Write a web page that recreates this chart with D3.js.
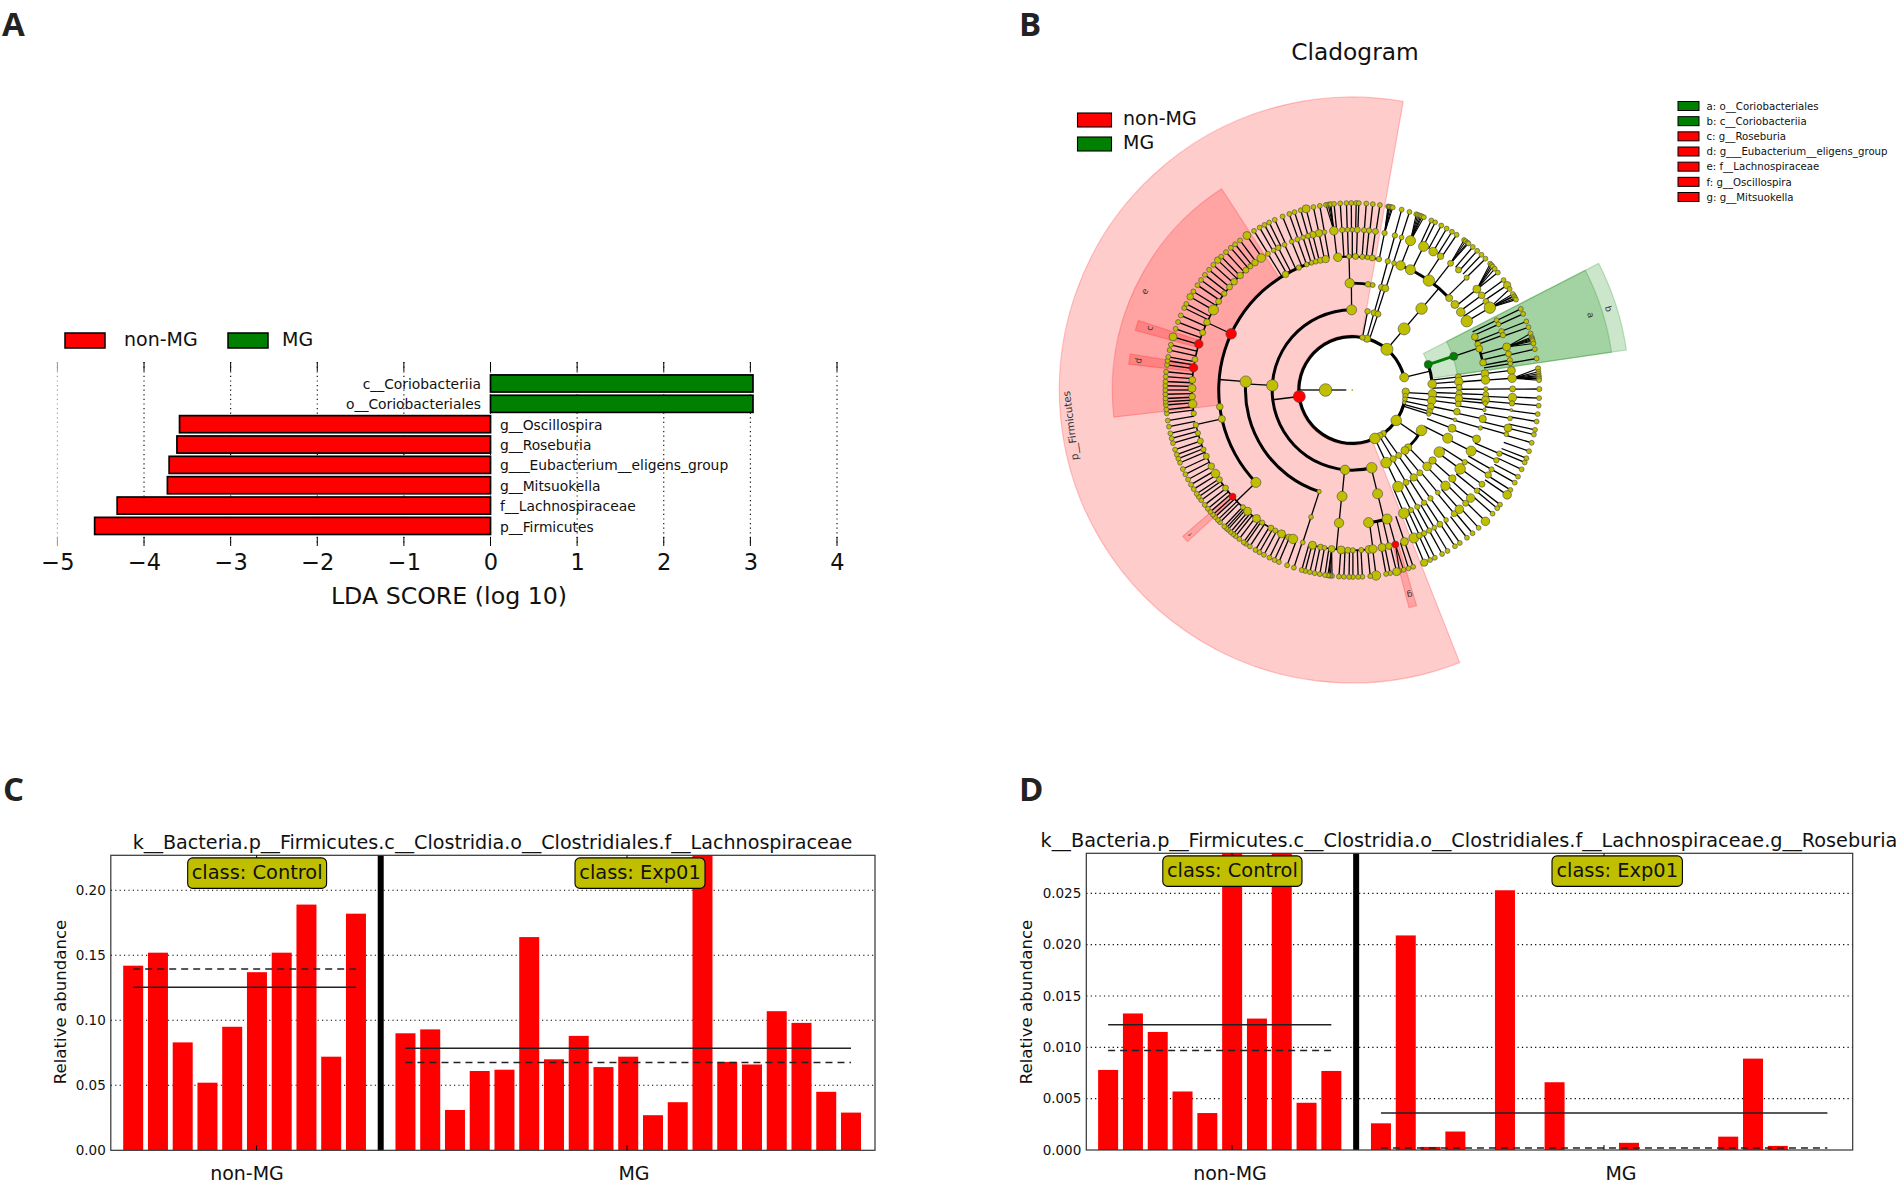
<!DOCTYPE html>
<html><head><meta charset="utf-8">
<script src="https://d3js.org/d3.v7.min.js"></script>
<style>html,body{margin:0;background:#fff}svg{display:block}text{font-family:"DejaVu Sans",sans-serif;fill:#111}</style>
</head><body><div id="c"></div>
<script>
// ---------- Panel A ----------
const ldaNames=["c__Coriobacteriia","o__Coriobacteriales","g__Oscillospira","g__Roseburia","g___Eubacterium__eligens_group","g__Mitsuokella","f__Lachnospiraceae","p__Firmicutes"];
const ldaValues=[3.03,3.03,-3.59,-3.62,-3.71,-3.73,-4.31,-4.57];
const ldaTicks=[-5,-4,-3,-2,-1,0,1,2,3,4];
const classNames=["non-MG","MG"];
// ---------- Panels C, D ----------
const cControl=[.142,.152,.083,.052,.095,.137,.152,.189,.072,.182];
const cExp=[.090,.093,.031,.061,.062,.164,.070,.088,.064,.072,.027,.037,.26,.068,.066,.107,.098,.045,.029];
const cMeans=[.1255,.0785], cMedians=[.1395,.0675];
const cTicks=[0,.05,.10,.15,.20];
const dControl=[.0078,.0133,.0115,.0057,.0036,.032,.0128,.031,.0046,.0077];
const dExp=[.0026,.0209,.0003,.0018,0,.0253,0,.0066,0,0,.0007,0,0,0,.0013,.0089,.0004,0,0];
const dMeans=[.0122,.0036], dMedians=[.0097,.0002];
const dTicks=[0,.005,.010,.015,.020,.025];
const cTitle="k__Bacteria.p__Firmicutes.c__Clostridia.o__Clostridiales.f__Lachnospiraceae";
const dTitle="k__Bacteria.p__Firmicutes.c__Clostridia.o__Clostridiales.f__Lachnospiraceae.g__Roseburia";
// ---------- Panel B: cladogram, angles in degrees, [angle, node radius] or angle ----------
const ring1=[[180,6.3]];
const ring2=[[187,6],[13.7,4.5],[-1.8,3.7],[-6.5,2.7],[-10,2.4],[-13.5,1.8],[-34.7,5.3],[-54.5,3],[-59,3.3],[-65,5.3],[74,3.7],[79,2.7],[49.6,6]];
const ring3=[[90.5,5],[176.7,5.7],[264.8,4.7],[284,5.3],[49.7,6],[18.6,4],[4.3,4.3],[-2.8,4.3],[-7.6,4.3],[-12,3.5],[-15.5,3],[-17.5,2.2],[79,2.8],[74.3,3],[71.3,3],[-30.3,5.3],[-45.8,3.7],[-49,4],[-54.7,3],[-59.4,3.2],[-65,5.3]];
const ring4=[[91.4,4.7],[81.5,2.8],[79,2.5],[74.2,3],[72,3.5],[175.5,5.7],[251.9,2.2],[264.5,5],[283.7,5],[49.6,5.7],[18.4,4],[7.1,3],[4.5,4.3],[1.4,3],[-1.8,3.3],[-4.5,4],[-7.5,3],[-11.7,3.3],[-16.2,1.8],[-21,4],[-26.8,5],[-35.5,5.3],[-41.3,3.7],[-45.6,4.3],[-50.8,3],[-54.9,3.7],[-59.8,3],[-64.7,5.3]];
const ring5=[[96.2,4.3],[91.4,2.4],[88.6,3],[85.7,2.6],[83.5,2.4],[81.4,3],[78.5,2.7],[74.6,2.7],[71.8,2.4],[68.8,4.7],[64.2,5],[55,5.7],[43.5,3.5],[39.8,4],[35.7,4.3],[31,5.7],
 [120,3.3],[113.6,2.7],[110,2.4],[107.8,2.4],[105.9,2.6],[103.8,3],[101.5,3.7],[155.1,5.3],[187.2,3.3],[192.5,3.5],[223.8,5],[252,2.4],[264.3,4.7],[277,5],[285.1,5],
 [23.4,3.4],[20,3],[18,3.4],[11.8,3.4],[7,4],[4.3,4.3],[.4,2.4],[-2,3],[-4.3,4],[-5.7,2.4],[-8.6,1.8],[-12.5,3.7],[-16.5,2.2],[-21.5,4],[-27.2,5],[-32.7,2.7],[-36.2,5.3],[-41.5,3.7],[-45.8,4.7],[-50.2,2.4],[-54.2,2.7],[-57.5,2.7],[-60.9,2.7],[-64,2.7],[-67.3,5.3]];
const ring6=[[81.7,3],[84,2.7],[85.8,2.6],[88.2,3],[90,2.3],[91.7,2.4],[93.6,2.7],[96.6,4.3],[100,2.4],[102,3.7],[104.3,3.4],[106,2.6],[107.9,2.4],[110,2.6],[112.2,2.4],[115,2.4],[117.5,2.7],[119.4,2.3],[121.8,2.6],
 [124.6,4.3],[127.4,3.3],[129.5,2.6],[131.6,3],[134.4,3.3],[137.5,3.3],[140,3],[143,2.7],[146.5,3],[150,5],[155,3.3],[159,3],[163.3,4.3],[169,3],[172,4.3],[176.4,3.4],[179.4,4],[182.4,3.3],[185,4.3],[188.4,2.7],[192.6,2.7],[195.6,2.6],[198.6,3],[201.8,2.6],[204.4,3],[208.4,3.3],[211.4,4.3],[214,3],[217.7,3],[221.7,3.4],[227,2.6],[229.2,4],[233.3,4],[235.8,2.6],[239.5,3],[241.3,2.6],[243.8,4],[246.6,3],[248.3,4.7],[252,2.4],
 [255.6,4],[258.6,3],[260,2.4],[262.6,3.4],[266,4],[268.4,3],[270.2,2.6],[273.2,2.6],[276,4],[277.4,4.2],[280.7,4],[283.2,3.4],[285.6,3.4],[289,4],[292.6,5],[294.8,3],[296.6,2.7],[298.7,2.7],[300.8,2.4],[303.1,3],[305.8,2.4],[309.5,3],[311.9,4.3],[315,3],[317.6,4.3],[321.1,2.7],[324,3],[328,3.2],[330.3,2.6],[334,2.7],[336.6,2.7],
 [78.4,2.7],[74.6,2.7],[72.1,2.4],[68.7,5],[63.6,5],[59.7,4.3],[56.6,3.3],[52.2,3],[48.5,3],[44.5,2.6],[39,4],[36.2,3.4],[33.5,3],[30.9,5.7],
 [25.8,2.4],[24.2,2.4],[21.5,2.7],[20,2.7],[15.6,4],[13,3],[10.7,2.7],[9.5,2.4],[7,4],[4.2,4.3],[.4,3],[-2.7,4.3],[-4.8,2.7],[-7.2,1.5],[-10.2,2.4],[-13.7,4],[-16,2.4]];
const ring7=[98.1,97.4,96.9,96.6,95.6,93.7,91.8,90.3,88.8,88,85.7,83.7,81.5,79,78.7,78.4,77.9,77.5,74.7,72.2,70,69.5,69,68.5,68.1,67.5,65,63.7,61.6,59.7,57.8,56.1,53.3,52.7,52,51.6,49.9,48.1,46.3,44.6,42.5,41.9,41.3,40.4,38.9,36,[34.1,3.7],32.7,30.3,30.9,30,29.4,28.9,
 25.7,24,21.5,19.6,17.6,16.4,16,15.6,15.2,14.4,12.6,9.7,[6.6,2.7],5.6,5,4.4,4,3.5,3,[.3,2.6],-2.5,-4.8,-7.4,-9.7,-12.3,-13.8,-16.4,-19.1,-21.4,-22.8,-25.1,-27.6,-29.7,-32.3,[-34.1,4.3],-37.8,-39.2,-41.4,[-44.6,4.3],-47.5,-50,-52.2,-54.9,-56.7,-59.4,-61.3,-63.8,-65.4,[-67.4,3.7],-71,-72.5,-74.1,-75.4,[-76.3,4],-78.3,-79.6,[-82.7,4.7],-84.5,-86.9,-88.2,-89.8,-91,-92.6,-94.1,-96.2,-96.7,-97.2,-97.5,-98.4,-100,-101.6,-103.1,-104.6,-105.7,
 251.8,249.6,246.9,245.4,243.7,241.8,240.2,238.8,236.8,235.3,234.5,232.8,231.4,230.4,229.4,228.3,227.6,226.8,225,224,222.8,221.8,220.6,219.4,217.9,216.1,214.8,213.7,212,210.4,208.6,206.8,205,202.9,201.5,200.2,198.6,196.5,195,193.4,191.3,189.4,187.2,186,184.6,183.6,182.6,181.3,180,178.7,177.4,175.9,174.4,172.3,171,169.8,167.7,166,[163.5,4],160.9,158.7,156.5,154,152.6,[150.1,3.3],148.2,145.9,144,142,140,138,[136,3.3],134.5,132.5,130.5,128.8,126.9,[124.3,4],121.7,119.7,118,116.4,114.5,111.9,109.7,108,106,[104.3,4],102,100];
// fans: [ring 6 apex angle, first ring 7 angle, last ring 7 angle]
const fans=[[96.6,96.5,98.2],[78.4,77.4,79.1],[68.7,67.4,70.1],[52.2,51.5,53.4],[39,40.3,42.6],[30.9,28.8,32.8],[15.6,14.3,17.7],[4.2,3,6.7],[262.6,262.4,263.9],[285.6,284.5,286.7]];
// arcs: [ring, from angle, to angle, width, angle of the parent spoke]
const arcs=[[2,14,358,3.2,180],[3,90.5,284,3,187],[3,4.3,18.6,3,13.7],[3,-45.8,-30.3,2.8,-34.7],[4,175.5,252,3,176.7],[4,79,91.4,2.8,90.5],[5,101.5,224,3,175.5],[5,78.5,96.2,2,91.4],[5,43.5,68.8,3,49.6],[5,277,285.1,3,283.7],[5,11.8,23.4,2.5,18.4],[6,124.6,188.4,1.6,155.1],[6,192.6,208.4,1.4,192.5],[6,211.4,248.3,1.6,223.8],[6,255.6,276,1.6,264.3]];
const thickGreen=[[3,4,18.5]];
const cladeNames=["a","b","c","d","e","f","g","p__Firmicutes"];
const cladeFrom=[8.3,8.3,162,170.8,123,220.8,284.6,80];
const cladeTo=[27.2,27.2,164.6,173.4,186.5,222.6,286.6,291.5];
const cladeInner=[106,80,160,160,133,160,160,55];
const cladeOuter=[262,277,225,225,240,224,225,293];
const cladeClass=[1,1,0,0,0,0,0,0];
const cladeLabelR=[250,269,212,216,230,217,213,284];
const cladeLabelA=[17.5,17.6,163,172.2,154.6,221.7,285.7,187.2];
const cladeLabelSize=[9,9,9,9,9,5.5,9,10.3];
const keyLabels=["a: o__Coriobacteriales","b: c__Coriobacteriia","c: g__Roseburia","d: g___Eubacterium__eligens_group","e: f__Lachnospiraceae","f: g__Oscillospira","g: g__Mitsuokella"];
const keyClass=[1,1,0,0,0,0,0];
const biomarkers=[[2,187,0],[3,18.6,1],[4,18.4,1],[5,155.1,0],[6,163.3,0],[6,172,0],[6,221.7,0],[6,285.6,0]];
const panelLetters=[["A",2,36],["B",1019,36],["C",3,801],["D",1019,801]];

const W=1902,H=1188;
const svg=d3.select("#c").append("svg").attr("width",W).attr("height",H);
const colors=d3.scaleOrdinal().domain([0,1]).range(["#ff0000","#008000"]);
const yellow="#bfbf00";
panelLetters.forEach(([t,x,y])=>svg.append("text").attr("x",x).attr("y",y).attr("font-size",33).attr("font-weight",700).style("font-family","'Open Sans',sans-serif").style("fill","#222").text(t));

// ===== Panel A
(function(){
 const g=svg.append("g");
 const x=d3.scaleLinear().domain([-5,4]).range([57.4,837]);
 const y=d3.scaleBand().domain(ldaNames).range([373.3,536.1]).paddingInner(.16).paddingOuter(.08);
 ldaTicks.forEach(t=>{
  const s=t===-5?"#999":"#000";
  g.append("line").attr("x1",x(t)).attr("x2",x(t)).attr("y1",362).attr("y2",546).attr("stroke",s).attr("stroke-width",1.1).attr("stroke-dasharray","1.2,3.4");
  [[362,371],[537,546]].forEach(([a,b])=>g.append("line").attr("x1",x(t)).attr("x2",x(t)).attr("y1",a).attr("y2",b).attr("stroke",s).attr("stroke-width",1));
 });
 ldaNames.forEach((n,i)=>{
  const v=ldaValues[i],cy=y(n);
  g.append("rect").attr("x",x(Math.min(0,v))).attr("width",Math.abs(x(v)-x(0))).attr("y",cy).attr("height",y.bandwidth())
   .attr("fill",colors(v>0?1:0)).attr("stroke","#000").attr("stroke-width",1.7);
  g.append("text").attr("x",v>0?481:500).attr("y",cy+y.bandwidth()/2+5.6).attr("text-anchor",v>0?"end":"start").attr("font-size",13.85).text(n);
 });
 const ax=g.append("g").attr("transform","translate(0,546)").call(d3.axisBottom(x).tickValues(ldaTicks).tickSize(0).tickPadding(8).tickFormat(d3.format("d")));
 ax.select(".domain").remove();
 ax.selectAll("text").attr("font-size",22.5).style("font-family","'DejaVu Sans'");
 g.append("text").attr("x",449).attr("y",604).attr("text-anchor","middle").attr("font-size",23.7).text("LDA SCORE (log 10)");
 [[65,105,124,0],[228,268,282,1]].forEach(([a,b,tx,k])=>{
  g.append("rect").attr("x",a).attr("y",333).attr("width",b-a).attr("height",15).attr("fill",colors(k)).attr("stroke","#000").attr("stroke-width",1.5);
  g.append("text").attr("x",tx).attr("y",346).attr("font-size",19).text(classNames[k]);
 });
})();

// ===== Panels C, D
function abundance(o){
 const g=svg.append("g");
 const x=d3.scaleLinear().domain(o.xd).range([o.l,o.r]);
 const y=d3.scaleLinear().domain([0,o.top]).range([o.b,o.t]);
 const id="clip"+o.l;
 svg.append("clipPath").attr("id",id).append("rect").attr("x",o.l).attr("y",o.t).attr("width",o.r-o.l).attr("height",o.b-o.t);
 o.ticks.forEach(t=>{ if(t>0) g.append("line").attr("x1",o.l).attr("x2",o.r).attr("y1",y(t)).attr("y2",y(t)).attr("stroke","#000").attr("stroke-width",1.1).attr("stroke-dasharray","1.2,3.2");});
 const all=o.a.map((v,i)=>[i,v]).concat(o.e.map((v,i)=>[i+11,v]));
 g.append("g").attr("clip-path",`url(#${id})`).selectAll("rect").data(all).join("rect")
  .attr("x",d=>x(d[0])-10).attr("width",20).attr("y",d=>y(d[1])).attr("height",d=>y(0)-y(d[1])).attr("fill","#ff0000");
 g.append("line").attr("x1",x(10)).attr("x2",x(10)).attr("y1",o.t).attr("y2",o.b).attr("stroke","#000").attr("stroke-width",6);
 [[0,9,0],[11,29,1]].forEach(([a,b,k])=>{
  g.append("line").attr("x1",x(a)).attr("x2",x(b)).attr("y1",y(o.mean[k])).attr("y2",y(o.mean[k])).attr("stroke","#222").attr("stroke-width",1.5);
  g.append("line").attr("x1",x(a)).attr("x2",x(b)).attr("y1",y(o.med[k])).attr("y2",y(o.med[k])).attr("stroke","#222").attr("stroke-width",1.5).attr("stroke-dasharray","7,5");
 });
 g.append("rect").attr("x",o.l).attr("y",o.t).attr("width",o.r-o.l).attr("height",o.b-o.t).attr("fill","none").attr("stroke","#333").attr("stroke-width",1.2);
 const ay=g.append("g").attr("transform",`translate(${o.l},0)`).call(d3.axisLeft(y).tickValues(o.ticks).tickSize(0).tickPadding(5).tickFormat(d3.format(o.fmt)));
 ay.select(".domain").remove();
 ay.selectAll("text").attr("font-size",13.5).style("font-family","'DejaVu Sans'");
 g.append("text").attr("transform",`translate(${o.yl},1002) rotate(-90)`).attr("text-anchor","middle").attr("font-size",16.6).text("Relative abundance");
 g.append("text").attr("x",o.tc).attr("y",o.ty).attr("text-anchor","middle").attr("font-size",o.tf).text(o.title);
 classNames.forEach((n,k)=>{
  [o.t,o.b-5].forEach(yy=>g.append("line").attr("x1",o.tick[k]).attr("x2",o.tick[k]).attr("y1",yy).attr("y2",yy+5).attr("stroke","#000"));
  g.append("text").attr("x",o.lab[k]).attr("y",o.b+30).attr("text-anchor","middle").attr("font-size",19).text(n);
  const b=o.box[k];
  g.append("rect").attr("x",b[0]).attr("y",o.t+2.6).attr("width",b[1]-b[0]).attr("height",30.5).attr("rx",5).attr("fill",yellow).attr("stroke","#000").attr("stroke-width",1.1);
  g.append("text").attr("x",(b[0]+b[1])/2).attr("y",o.t+24).attr("text-anchor","middle").attr("font-size",19.4).text(["class: Control","class: Exp01"][k]);
 });
}
abundance({a:cControl,e:cExp,mean:cMeans,med:cMedians,ticks:cTicks,fmt:".2f",top:.2269,xd:[-.905,29.97],l:110.8,r:875,t:855.3,b:1150.3,yl:66,tc:492.5,ty:849,tf:19.15,title:cTitle,tick:[256.6,627],lab:[247,634],box:[[187.7,326.6],[575,705]]});
abundance({a:dControl,e:dExp,mean:dMeans,med:dMedians,ticks:dTicks,fmt:".3f",top:.0289,xd:[-.88,30.02],l:1086.3,r:1852.7,t:853.3,b:1150,yl:1032,tc:1469,ty:847,tf:19.25,title:dTitle,tick:[1232,1604],lab:[1230,1621],box:[[1162.8,1302],[1552,1682.4]]});

// ===== Panel B
(function(){
 const cx=1352.3,cy=390;
 const g=svg.append("g").attr("transform",`translate(${cx},${cy})`);
 const R=d3.scaleLinear().domain([0,7]).range([0,187]);
 const ang=d3.scaleLinear().domain([0,360]).range([Math.PI/2,Math.PI/2-2*Math.PI]);
 const P=(a,r)=>d3.pointRadial(ang(a),r);
 const arcGen=d3.arc();
 const secPath=i=>arcGen({innerRadius:cladeInner[i],outerRadius:cladeOuter[i],startAngle:ang(cladeFrom[i]),endAngle:ang(cladeTo[i])});
 [7,4,1,0,2,3,5,6].forEach(i=>{
  g.append("path").attr("d",secPath(i)).attr("fill",colors(cladeClass[i])).attr("fill-opacity",.2).attr("stroke",colors(cladeClass[i])).attr("stroke-opacity",.22).attr("stroke-width",1.2);
 });
 const rings=[[],ring1,ring2,ring3,ring4,ring5,ring6,ring7].map((a,l)=>a.map(d=>Array.isArray(d)?{l,a:d[0],s:d[1]}:{l,a:d,s:2.45}));
 const norm=a=>((a%360)+360)%360;
 const diff=(a,b)=>{const d=Math.abs(norm(a)-norm(b));return Math.min(d,360-d);};
 const inArc=n=>arcs.some(c=>c[0]===n.l&&norm(n.a-c[1])<=norm(c[2]-c[1]));
 const lines=g.append("g").attr("stroke","#000").attr("stroke-width",1.3).attr("fill","none");
 const seg=(a,ra,b,rb,w)=>{const p=P(a,ra),q=P(b,rb);lines.append("line").attr("x1",p[0]).attr("y1",p[1]).attr("x2",q[0]).attr("y2",q[1]).attr("stroke-width",w||1.3);};
 for(let l=2;l<=7;l++){
  rings[l].forEach(n=>{
   if(l===7){
    const f=fans.find(c=>norm(n.a)>=c[1]&&norm(n.a)<=c[2]);
    if(f) seg(f[0],R(6),n.a,R(7),1.1);
    else seg(n.a,R(6),n.a,R(7),1.3);
    return;
   }
   if(inArc(n))return;
   const par=d3.least(rings[l-1],p=>diff(p.a,n.a));
   if(par&&diff(par.a,n.a)<=4) seg(n.a,R(l-1),n.a,R(l));
  });
 }
 seg(180,R(1),180,R(0)+6,1.3);
 arcs.forEach(c=>{
  const pa=arcGen({innerRadius:R(c[0])-c[3]/2,outerRadius:R(c[0])+c[3]/2,startAngle:ang(c[1]),endAngle:ang(c[2])+(c[2]<c[1]?-2*Math.PI:0)});
  g.append("path").attr("d",pa).attr("fill","#000");
  seg(c[4],R(c[0]-1),c[4],R(c[0]));
 });
 thickGreen.forEach(([a,b,t])=>{const p=P(t,R(a)),q=P(t,R(b));g.append("line").attr("x1",p[0]).attr("y1",p[1]).attr("x2",q[0]).attr("y2",q[1]).attr("stroke","#008000").attr("stroke-width",3);});
 const nodes=rings.flat();
 const mark=n=>{const b=biomarkers.find(m=>m[0]===n.l&&m[1]===n.a);return b?colors(b[2]):yellow;};
 g.append("g").selectAll("circle").data(nodes).join("circle")
  .attr("cx",d=>P(d.a,R(d.l))[0]).attr("cy",d=>P(d.a,R(d.l))[1]).attr("r",d=>d.s).attr("fill",mark).attr("stroke","#444").attr("stroke-width",.6);
 g.append("circle").attr("r",.9).attr("fill",yellow);
 cladeNames.forEach((t,i)=>{
  const p=P(cladeLabelA[i],cladeLabelR[i]);
  g.append("text").attr("transform",`translate(${p[0]},${p[1]}) rotate(${90-cladeLabelA[i]})`).attr("text-anchor","middle").attr("dy","0.35em").attr("font-size",cladeLabelSize[i]).style("fill","#333").text(t);
 });
 svg.append("text").attr("x",1355).attr("y",60).attr("text-anchor","middle").attr("font-size",23.3).text("Cladogram");
 [[113,0],[137,1]].forEach(([y,k])=>{
  svg.append("rect").attr("x",1077.5).attr("y",y).attr("width",34).attr("height",14).attr("fill",colors(k)).attr("stroke","#000").attr("stroke-width",1.1);
  svg.append("text").attr("x",1123).attr("y",y+11.5).attr("font-size",19).text(classNames[k]);
 });
 keyLabels.forEach((t,i)=>{
  const y=d3.scaleLinear().domain([0,6]).range([106,197])(i);
  svg.append("rect").attr("x",1678).attr("y",y-4.5).attr("width",21).attr("height",9).attr("fill",colors(keyClass[i])).attr("stroke","#000").attr("stroke-width",1);
  svg.append("text").attr("x",1706.5).attr("y",y+3.7).attr("font-size",10.2).text(t);
 });
})();
</script></body></html>
